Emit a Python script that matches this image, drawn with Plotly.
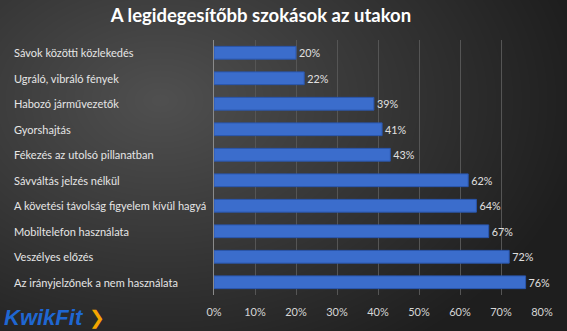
import base64, struct, zlib
import numpy as np
import plotly.graph_objects as go

categories = [
    "Sávok közötti közlekedés",
    "Ugráló, vibráló fények",
    "Habozó járművezetők",
    "Gyorshajtás",
    "Fékezés az utolsó pillanatban",
    "Sávváltás jelzés nélkül",
    "A követési távolság figyelem kívül hagyá",
    "Mobiltelefon használata",
    "Veszélyes előzés",
    "Az irányjelzőnek a nem használata",
]
values = [20, 22, 39, 41, 43, 62, 64, 67, 72, 76]
x_ticks = [0, 10, 20, 30, 40, 50, 60, 70, 80]
x_tick_labels = [f"{v}%" for v in x_ticks]
title_text = "A legidegesítőbb szokások az utakon"

W, H = 567, 331

# radial gradient background as PNG
yy, xx = np.mgrid[0:H, 0:W].astype(float)
cx, cy = 160.0, 100.0
d = np.sqrt(((xx - cx) / 430.0) ** 2 + ((yy - cy) / 300.0) ** 2)
d = np.clip(d, 0, 1)
inner, outer = 80.0, 30.0
g = inner + (outer - inner) * d
img = np.clip(g, 0, 255).astype(np.uint8)
rgb = np.stack([img, img, img], axis=-1)
raw = b"".join(b"\x00" + rgb[r].tobytes() for r in range(H))


def chunk(t, data):
    c = struct.pack(">I", len(data)) + t + data
    return c + struct.pack(">I", zlib.crc32(t + data) & 0xFFFFFFFF)


png = b"\x89PNG\r\n\x1a\n" + chunk(b"IHDR", struct.pack(">IIBBBBB", W, H, 8, 2, 0, 0, 0)) \
    + chunk(b"IDAT", zlib.compress(raw, 9)) + chunk(b"IEND", b"")
bg_uri = "data:image/png;base64," + base64.b64encode(png).decode()

fig = go.Figure()
fig.add_trace(go.Bar(
    x=values, y=categories, orientation="h",
    marker=dict(color="#3b6dcc", line=dict(color="#2a56ad", width=1)),
    text=[f"{v}%" for v in values], textposition="outside",
    textfont=dict(color="#e0e0e0", size=11, family="Lato"),
    cliponaxis=False, width=0.5,
))

annotations = []
for c in categories:
    annotations.append(dict(
        text=c, x=-0.616, xref="paper", y=c, yref="y", xanchor="left", yanchor="middle",
        showarrow=False, font=dict(color="#e6e6e6", size=11, family="Lato"),
    ))
annotations.append(dict(
    text="<b><i>KwikFit</i></b>", x=-0.645, xref="paper", y=-0.09, yref="paper",
    xanchor="left", yanchor="middle", showarrow=False,
    font=dict(color="#1f67d2", size=22, family="Liberation Sans"),
))
annotations.append(dict(
    text="<b>❯</b>", x=-0.388, xref="paper", y=-0.09, yref="paper",
    xanchor="left", yanchor="middle", showarrow=False,
    font=dict(color="#f5a500", size=19, family="DejaVu Sans"),
))

fig.update_layout(
    width=W, height=H,
    margin=dict(l=214, r=25, t=40, b=36),
    paper_bgcolor="#2e2e2e", plot_bgcolor="rgba(0,0,0,0)",
    images=[dict(source=bg_uri, xref="paper", yref="paper", x=-214 / 328, y=1 + 40 / 255,
                 sizex=W / 328, sizey=H / 255, sizing="stretch", layer="below",
                 xanchor="left", yanchor="top")],
    title=dict(text="<b>" + title_text + "</b>", x=261 / W, xref="container", y=0.952, yref="container",
               xanchor="center", yanchor="middle",
               font=dict(color="white", size=18.5, family="Lato")),
    xaxis=dict(range=[0, 80], tickvals=x_ticks, ticktext=x_tick_labels,
               showgrid=True, gridcolor="#555555", gridwidth=1, zeroline=False,
               tickfont=dict(color="#d6d6d6", size=11, family="Lato"),
               ticks="", showline=False, fixedrange=True, ticklabelstandoff=9),
    yaxis=dict(categoryorder="array", categoryarray=categories, autorange="reversed",
               showticklabels=False, showline=True, linecolor="#8a8a8a", linewidth=1,
               showgrid=False, ticks=""),
    annotations=annotations,
    showlegend=False,
)

fig.write_html("out.html")
